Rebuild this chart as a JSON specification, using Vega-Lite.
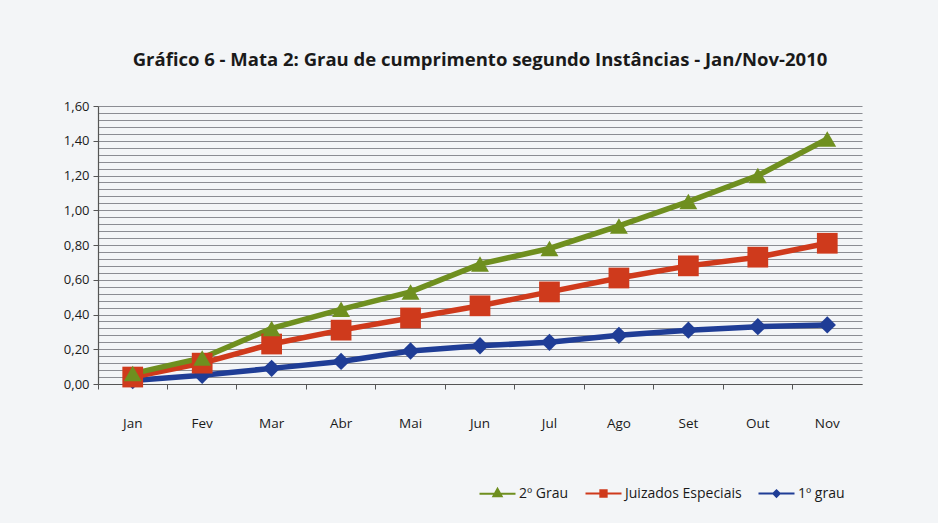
{
  "$schema": "https://vega.github.io/schema/vega-lite/v6.json",
  "width": 764,
  "height": 278,
  "autosize": {"type": "none"},
  "padding": {"left": 98, "top": 106, "right": 76, "bottom": 139},
  "background": "#f3f5f7",
  "title": {
    "text": "Gráfico 6 - Mata 2: Grau de cumprimento segundo Instâncias - Jan/Nov-2010",
    "font": "Open Sans",
    "fontSize": 18.5,
    "fontWeight": "bold",
    "color": "#1a1a1a",
    "anchor": "middle",
    "offset": 31
  },
  "config": {
    "view": {"stroke": null},
    "font": "Open Sans"
  },
  "data": {
    "values": [
      {"mes": "Jan", "serie": "1º grau", "valor": 0.02},
      {"mes": "Fev", "serie": "1º grau", "valor": 0.05},
      {"mes": "Mar", "serie": "1º grau", "valor": 0.09},
      {"mes": "Abr", "serie": "1º grau", "valor": 0.13},
      {"mes": "Mai", "serie": "1º grau", "valor": 0.19},
      {"mes": "Jun", "serie": "1º grau", "valor": 0.22},
      {"mes": "Jul", "serie": "1º grau", "valor": 0.24},
      {"mes": "Ago", "serie": "1º grau", "valor": 0.28},
      {"mes": "Set", "serie": "1º grau", "valor": 0.31},
      {"mes": "Out", "serie": "1º grau", "valor": 0.33},
      {"mes": "Nov", "serie": "1º grau", "valor": 0.34},
      {"mes": "Jan", "serie": "Juizados Especiais", "valor": 0.04},
      {"mes": "Fev", "serie": "Juizados Especiais", "valor": 0.12},
      {"mes": "Mar", "serie": "Juizados Especiais", "valor": 0.23},
      {"mes": "Abr", "serie": "Juizados Especiais", "valor": 0.31},
      {"mes": "Mai", "serie": "Juizados Especiais", "valor": 0.38},
      {"mes": "Jun", "serie": "Juizados Especiais", "valor": 0.45},
      {"mes": "Jul", "serie": "Juizados Especiais", "valor": 0.53},
      {"mes": "Ago", "serie": "Juizados Especiais", "valor": 0.61},
      {"mes": "Set", "serie": "Juizados Especiais", "valor": 0.68},
      {"mes": "Out", "serie": "Juizados Especiais", "valor": 0.73},
      {"mes": "Nov", "serie": "Juizados Especiais", "valor": 0.81},
      {"mes": "Jan", "serie": "2º Grau", "valor": 0.06},
      {"mes": "Fev", "serie": "2º Grau", "valor": 0.15},
      {"mes": "Mar", "serie": "2º Grau", "valor": 0.32},
      {"mes": "Abr", "serie": "2º Grau", "valor": 0.43},
      {"mes": "Mai", "serie": "2º Grau", "valor": 0.53},
      {"mes": "Jun", "serie": "2º Grau", "valor": 0.69},
      {"mes": "Jul", "serie": "2º Grau", "valor": 0.78},
      {"mes": "Ago", "serie": "2º Grau", "valor": 0.91},
      {"mes": "Set", "serie": "2º Grau", "valor": 1.05},
      {"mes": "Out", "serie": "2º Grau", "valor": 1.20},
      {"mes": "Nov", "serie": "2º Grau", "valor": 1.41}
    ]
  },
  "encoding": {
    "x": {
      "field": "mes",
      "type": "nominal",
      "sort": ["Jan", "Fev", "Mar", "Abr", "Mai", "Jun", "Jul", "Ago", "Set", "Out", "Nov"],
      "scale": {"type": "band", "paddingInner": 0, "paddingOuter": 0},
      "axis": {
        "title": null,
        "labelAngle": 0,
        "bandPosition": 0,
        "grid": false,
        "domainColor": "#555555",
        "domainWidth": 1.2,
        "tickColor": "#555555",
        "tickSize": 5,
        "labelColor": "#1a1a1a",
        "labelFontSize": 13.5,
        "labelPadding": 27,
        "labelFont": "Open Sans"
      }
    },
    "y": {
      "field": "valor",
      "type": "quantitative",
      "scale": {"domain": [0, 1.6], "nice": false, "zero": true},
      "axis": {
        "title": null,
        "values": [0, 0.04, 0.08, 0.12, 0.16, 0.2, 0.24, 0.28, 0.32, 0.36, 0.4, 0.44, 0.48, 0.52, 0.56, 0.6, 0.64, 0.68, 0.72, 0.76, 0.8, 0.84, 0.88, 0.92, 0.96, 1.0, 1.04, 1.08, 1.12, 1.16, 1.2, 1.24, 1.28, 1.32, 1.36, 1.4, 1.44, 1.48, 1.52, 1.56, 1.6],
        "labelExpr": "abs(datum.value*5 - round(datum.value*5)) < 0.001 ? replace(format(datum.value, '.2f'), '.', ',') : ''",
        "grid": true,
        "gridColor": "#7f8287",
        "gridWidth": 1.1,
        "gridOpacity": 0.9,
        "domainColor": "#555555",
        "domainWidth": 1.2,
        "tickColor": "#555555",
        "tickSize": 5,
        "tickOpacity": {"condition": {"test": "abs(datum.value*5 - round(datum.value*5)) < 0.001", "value": 1}, "value": 0},
        "labelColor": "#1a1a1a",
        "labelFontSize": 13,
        "labelPadding": 4,
        "labelFont": "Open Sans"
      }
    },
    "color": {
      "field": "serie",
      "type": "nominal",
      "scale": {
        "domain": ["2º Grau", "Juizados Especiais", "1º grau"],
        "range": ["#6f8f1f", "#cf3a1c", "#1f3d96"]
      },
      "legend": {
        "title": null,
        "orient": "none",
        "legendX": 380,
        "legendY": 368,
        "direction": "horizontal",
        "symbolSize": 1296,
        "symbolStrokeWidth": 2,
        "labelFontSize": 14,
        "labelColor": "#1a1a1a",
        "labelFont": "Open Sans",
        "labelOffset": 2,
        "columnPadding": 12,
        "encode": {
          "symbols": {
            "update": {
              "shape": {"signal": "datum.value === '2º Grau' ? 'M-1,0H1M0,-0.26L0.22,0.14L-0.22,0.14Z' : (datum.value === 'Juizados Especiais' ? 'M-1,0H1M-0.17,-0.17H0.17V0.17H-0.17Z' : 'M-1,0H1M0,-0.17L0.17,0L0,0.17L-0.17,0Z')"},
              "size": {"value": 1296},
              "fill": {"scale": "color", "field": "value"},
              "fillOpacity": {"value": 1},
              "strokeWidth": {"value": 2.2}
            }
          }
        }
      }
    }
  },
  "layer": [
    {
      "mark": {"type": "line", "strokeWidth": 5.5}
    },
    {
      "transform": [{"filter": "datum.serie === '1º grau'"}],
      "mark": {"type": "point", "filled": true, "opacity": 1, "shape": "diamond", "size": 300}
    },
    {
      "transform": [{"filter": "datum.serie === 'Juizados Especiais'"}],
      "mark": {"type": "point", "filled": true, "opacity": 1, "shape": "square", "size": 430}
    },
    {
      "transform": [{"filter": "datum.serie === '2º Grau'"}],
      "mark": {"type": "point", "filled": true, "opacity": 1, "shape": "triangle-up", "size": 320}
    }
  ]
}
